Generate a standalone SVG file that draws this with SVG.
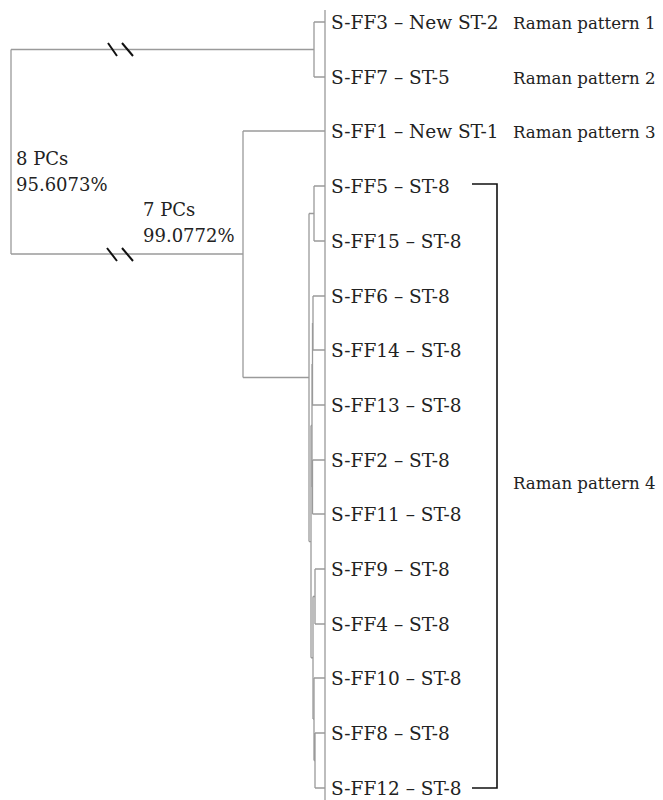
<svg xmlns="http://www.w3.org/2000/svg" width="663" height="800" viewBox="0 0 663 800">
<style>
text{font-family:'DejaVu Serif','Liberation Serif',serif;font-size:18.5px;fill:#222}
.r{font-size:18px}
.p{font-size:16.6px}
.e{fill:none;stroke:#9a9a9a;stroke-width:1.3}
.b{fill:none;stroke:#111;stroke-width:2}
.k{fill:none;stroke:#111;stroke-width:1.6}
</style>
<rect width="663" height="800" fill="#fff"/>
<g id="connectors">
<path class="e" d="M325,10V800"/>
<path class="e" d="M11,49.5H314M314,22V77M314,22H325M314,77H325"/>
<path class="e" d="M11,49.5V254M11,254H243"/>
<path class="e" d="M243,131V377.5M243,131H325M243,377.5H309"/>
<path class="e" d="M309,213.5V541.6M309,213.5H314M314,186V241M314,186H325M314,241H325"/>
<path class="e" d="M309,541.6H311M311,425.5V657.75M311,425.5H312"/>
<path class="e" d="M312,364V487M312,364H312.5M312.5,323V405M312.5,323H313M313,296V350M313,296H325M313,350H325M312.5,405H325"/>
<path class="e" d="M312,487H312.5M312.5,460V514M312.5,460H325M312.5,514H325"/>
<path class="e" d="M311,657.75H313M313,596.5V719M313,596.5H315M315,569V624M315,569H325M315,624H325"/>
<path class="e" d="M313,719H314M314,678V760.5M314,678H325M314,760.5H315M315,733V788M315,733H325M315,788H325"/>
<path class="b" d="M108,43L117,56M122,43L133,56M107,248L117,261M122,248L133,261"/>
<path class="k" d="M472,184H497V788H472"/>
</g>
<g id="n-ff3"><text x="331" y="29">S-FF3 – New ST-2</text></g>
<g id="n-ff7"><text x="331" y="84">S-FF7 – ST-5</text></g>
<g id="n-ff1"><text x="331" y="138">S-FF1 – New ST-1</text></g>
<g id="n-ff5"><text x="331" y="193">S-FF5 – ST-8</text></g>
<g id="n-ff15"><text x="331" y="248">S-FF15 – ST-8</text></g>
<g id="n-ff6"><text x="331" y="303">S-FF6 – ST-8</text></g>
<g id="n-ff14"><text x="331" y="357">S-FF14 – ST-8</text></g>
<g id="n-ff13"><text x="331" y="412">S-FF13 – ST-8</text></g>
<g id="n-ff2"><text x="331" y="467">S-FF2 – ST-8</text></g>
<g id="n-ff11"><text x="331" y="521">S-FF11 – ST-8</text></g>
<g id="n-ff9"><text x="331" y="576">S-FF9 – ST-8</text></g>
<g id="n-ff4"><text x="331" y="631">S-FF4 – ST-8</text></g>
<g id="n-ff10"><text x="331" y="685">S-FF10 – ST-8</text></g>
<g id="n-ff8"><text x="331" y="740">S-FF8 – ST-8</text></g>
<g id="n-ff12"><text x="331" y="795">S-FF12 – ST-8</text></g>
<g id="p1"><text class="p" x="513" y="29">Raman pattern 1</text></g>
<g id="p2"><text class="p" x="513" y="84">Raman pattern 2</text></g>
<g id="p3"><text class="p" x="513" y="138">Raman pattern 3</text></g>
<g id="p4"><text class="p" x="513" y="489">Raman pattern 4</text></g>
<g id="pc8"><text class="r" x="16" y="165">8 PCs</text><text class="r" x="16" y="191">95.6073%</text></g>
<g id="pc7"><text class="r" x="143" y="216">7 PCs</text><text class="r" x="143" y="242">99.0772%</text></g>
</svg>
